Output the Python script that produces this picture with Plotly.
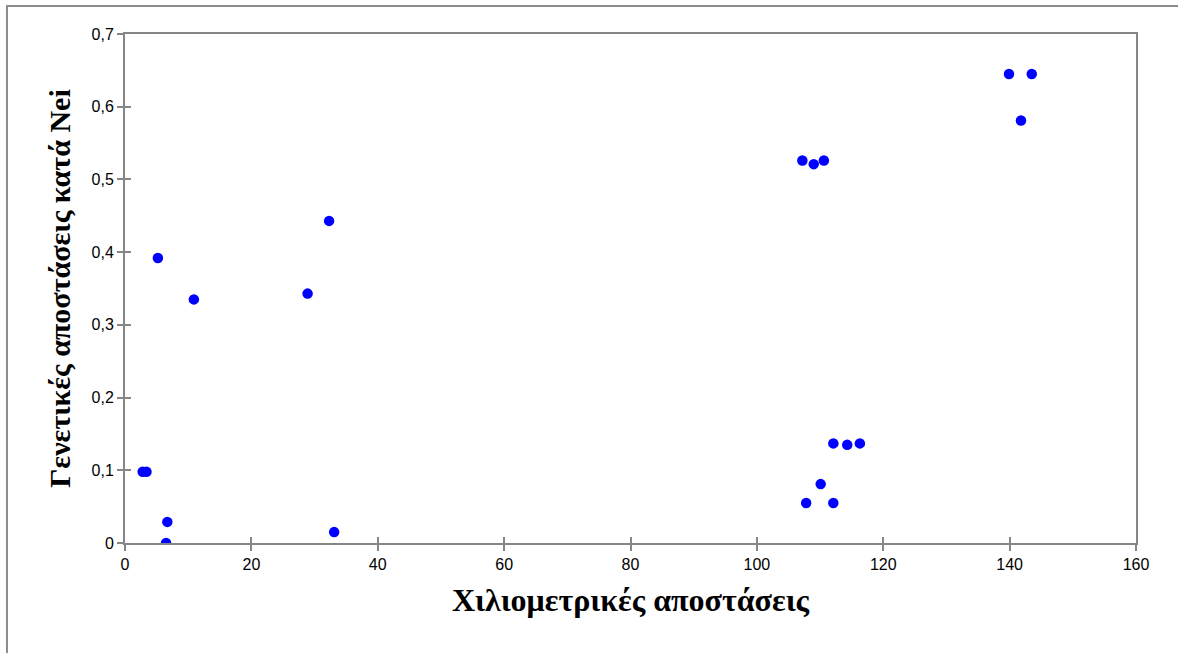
import plotly.graph_objects as go

# Data
km_distance = [2.8, 3.4, 5.2, 6.5, 6.7, 10.9, 28.9, 32.3, 33.1,
               107.2, 109.0, 110.6, 107.8, 110.1, 112.1, 112.1, 114.3, 116.3,
               139.9, 143.5, 141.8]
nei_distance = [0.098, 0.098, 0.392, 0.000, 0.029, 0.335, 0.343, 0.443, 0.015,
                0.526, 0.521, 0.526, 0.055, 0.081, 0.055, 0.137, 0.135, 0.137,
                0.645, 0.645, 0.581]
x_ticks = [0, 20, 40, 60, 80, 100, 120, 140, 160]
y_ticks = [0, 0.1, 0.2, 0.3, 0.4, 0.5, 0.6, 0.7]
y_tick_labels = ["0", "0,1", "0,2", "0,3", "0,4", "0,5", "0,6", "0,7"]
x_title = "Χιλιομετρικές αποστάσεις"
y_title = "Γενετικές αποστάσεις κατά Nei"

AX = "#868686"
tick_font = dict(family="Liberation Sans", size=16, color="#000000")

fig = go.Figure()
fig.add_trace(go.Scatter(
    x=km_distance, y=nei_distance, mode="markers",
    marker=dict(color="#0000FF", size=10.5, line=dict(width=0)),
    hoverinfo="x+y", showlegend=False,
))
# empty trace to host the overlay axes that draw the inner half of the ticks
fig.add_trace(go.Scatter(x=[], y=[], xaxis="x2", yaxis="y2", showlegend=False))

fig.update_layout(
    width=1178, height=653,
    margin=dict(l=125, r=42, t=34, b=110),
    paper_bgcolor="white", plot_bgcolor="white",
    separators=", ",
    xaxis=dict(
        range=[0, 160], tickvals=x_ticks, ticktext=[str(v) for v in x_ticks],
        showgrid=False, zeroline=False,
        showline=True, linecolor=AX, linewidth=2, mirror=True,
        ticks="outside", ticklen=6, tickwidth=2, tickcolor=AX,
        tickfont=tick_font,
        title=dict(text="<b>" + x_title + "</b>",
                   font=dict(family="Liberation Serif", size=32, color="#000000"),
                   standoff=16),
    ),
    yaxis=dict(
        range=[0, 0.7], tickvals=y_ticks, ticktext=y_tick_labels,
        showgrid=False, zeroline=False,
        showline=True, linecolor=AX, linewidth=2, mirror=True,
        ticks="outside", ticklen=6, tickwidth=2, tickcolor=AX,
        tickfont=tick_font,
        title=dict(text="<b>" + y_title + "</b>",
                   font=dict(family="Liberation Serif", size=30, color="#000000"),
                   standoff=12),
    ),
    xaxis2=dict(
        overlaying="x", anchor="y2", range=[0, 160], tickvals=x_ticks,
        showticklabels=False, showgrid=False, zeroline=False, showline=False,
        ticks="inside", ticklen=6, tickwidth=2, tickcolor=AX,
    ),
    yaxis2=dict(
        overlaying="y", anchor="x2", range=[0, 0.7], tickvals=y_ticks,
        showticklabels=False, showgrid=False, zeroline=False, showline=False,
        ticks="inside", ticklen=6, tickwidth=2, tickcolor=AX,
    ),
    shapes=[dict(
        type="rect", xref="paper", yref="paper",
        x0=-0.1167, x1=1.2, y0=-0.4, y1=1.055,
        line=dict(color="#8C8C8C", width=2), layer="below",
    )],
)

fig.write_html("out.html",
               config={"displayModeBar": False},
               post_script="document.body.style.margin='0';document.body.style.overflow='hidden';")
